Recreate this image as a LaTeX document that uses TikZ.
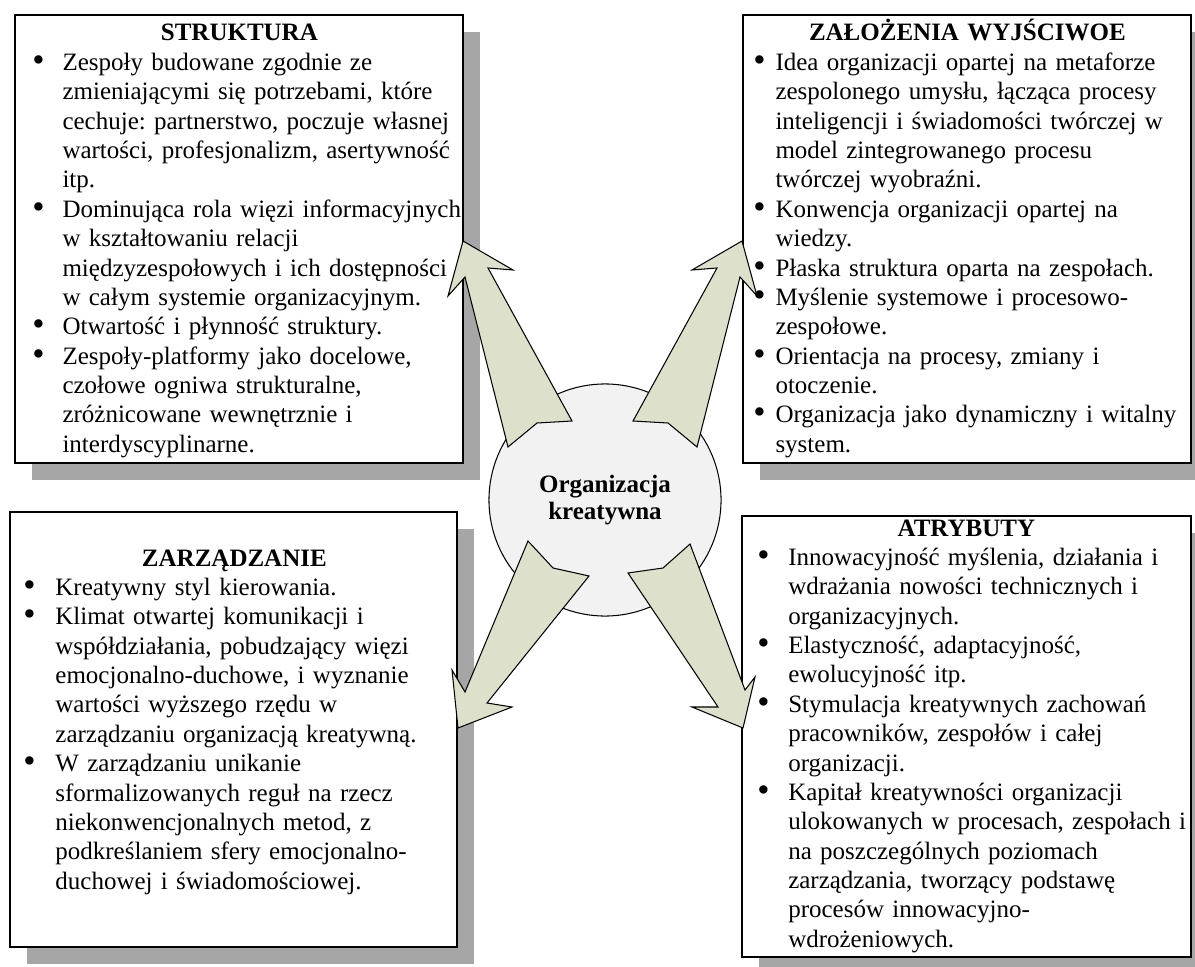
\documentclass[tikz,border=0pt]{standalone}
\usepackage{fontspec}
\usepackage{graphicx}
\setmainfont{Liberation Serif}
\usetikzlibrary{fit,shadows}

\definecolor{cien}{RGB}{166,166,166}
\definecolor{kolo}{RGB}{242,242,242}
\definecolor{strzalka}{RGB}{221,224,203}

\newlength\bulx
\newlength\txtx
\newcommand{\wciecia}[2]{\setlength\bulx{#1}\setlength\txtx{#2}}
\newcommand{\pkt}{\par\noindent\hangindent=\txtx\hangafter=1\makebox[\txtx][l]{\hspace*{\bulx}\raisebox{-0.5pt}{\scalebox{1.4}{\textbullet}}}}
\newcommand{\tytul}[1]{{\centering\bfseries #1\par}}

\tikzset{
  ramka/.style={draw, line width=1pt, fill=white, inner sep=0pt,
    drop shadow={shadow xshift=8.2pt, shadow yshift=-8.2pt, fill=cien, opacity=1}},
  tekst/.style={anchor=base west, inner sep=0pt, text width=215pt,
    font=\fontsize{12}{14.1}\selectfont\frenchspacing},
  strz/.style={draw, line width=0.5pt, fill=strzalka},
}

\begin{document}
\begin{tikzpicture}[x=0.48pt,y=-0.48pt]
   \clip (0,0) rectangle (1195,967);

   % ramki
   \node[ramka, fit={(15,15) (463,463)}] (struktura) {};
   \node[ramka, fit={(743,15) (1191,463)}] (zalozenia) {};
   \node[ramka, fit={(10,512) (457,947)}] (zarzadzanie) {};
   \node[ramka, fit={(742,516) (1191,957)}] (atrybuty) {};

   \node[tekst] (t-struktura) at (15,41) {\wciecia{8.2pt}{22.6pt}%
     \tytul{STRUKTURA}
     \pkt Zespoły budowane zgodnie ze\newline zmieniającymi się potrzebami, które\newline cechuje: partnerstwo, poczuje własnej\newline wartości, profesjonalizm, asertywność\newline itp.
     \pkt Dominująca rola więzi informacyjnych\newline w kształtowaniu relacji\newline międzyzespołowych i ich dostępności\newline w całym systemie organizacyjnym.
     \pkt Otwartość i płynność struktury.
     \pkt Zespoły-platformy jako docelowe,\newline czołowe ogniwa strukturalne,\newline zróżnicowane wewnętrznie i\newline interdyscyplinarne.\par};

   \node[tekst] (t-zalozenia) at (743,41) {\wciecia{4.8pt}{15.4pt}%
     \tytul{ZAŁOŻENIA WYJŚCIWOE}
     \pkt Idea organizacji opartej na metaforze\newline zespolonego umysłu, łącząca procesy\newline inteligencji i świadomości twórczej w\newline model zintegrowanego procesu\newline twórczej wyobraźni.
     \pkt Konwencja organizacji opartej na\newline wiedzy.
     \pkt Płaska struktura oparta na zespołach.
     \pkt Myślenie systemowe i procesowo-\newline zespołowe.
     \pkt Orientacja na procesy, zmiany i\newline otoczenie.
     \pkt Organizacja jako dynamiczny i witalny\newline system.\par};

   \node[tekst] (t-zarzadzanie) at (10,566) {\wciecia{6.2pt}{21.6pt}%
     \tytul{ZARZĄDZANIE}
     \pkt Kreatywny styl kierowania.
     \pkt Klimat otwartej komunikacji i\newline współdziałania, pobudzający więzi\newline emocjonalno-duchowe, i wyznanie\newline wartości wyższego rzędu w\newline zarządzaniu organizacją kreatywną.
     \pkt W zarządzaniu unikanie\newline sformalizowanych reguł na rzecz\newline niekonwencjonalnych metod, z\newline podkreślaniem sfery emocjonalno-\newline duchowej i świadomościowej.\par};

   \node[tekst] (t-atrybuty) at (742,536) {\wciecia{7.2pt}{22pt}%
     \tytul{ATRYBUTY}
     \pkt Innowacyjność myślenia, działania i\newline wdrażania nowości technicznych i\newline organizacyjnych.
     \pkt Elastyczność, adaptacyjność,\newline ewolucyjność itp.
     \pkt Stymulacja kreatywnych zachowań\newline pracowników, zespołów i całej\newline organizacji.
     \pkt Kapitał kreatywności organizacji\newline ulokowanych w procesach, zespołach i\newline na poszczególnych poziomach\newline zarządzania, tworzący podstawę\newline procesów innowacyjno-\newline wdrożeniowych.\par};

   % koło
   \node[draw, circle, fill=kolo, line width=0.5pt, minimum size=111.4pt, inner sep=0pt,
     align=center, font=\bfseries\fontsize{12}{13.4}\selectfont] (org) at (605,500) {Organizacja\\kreatywna};

   % strzałki
   \draw[strz] (463,241) -- (513,270) -- (488,268) -- (572,421) -- (537,423) -- (508,447) -- (465,277) -- (448,296) -- cycle;
   \draw[strz] (742,241) -- (757,296) -- (740,277) -- (697,447) -- (668,423) -- (633,421) -- (717,268) -- (692,270) -- cycle;
   \draw[strz] (528,541) -- (465,692) -- (452,670) -- (458,728) -- (512,707) -- (487,703) -- (589,576) -- (553,568) -- cycle;
   \draw[strz] (628,573) -- (718,707) -- (692,707) -- (743,728) -- (755,677) -- (745,690) -- (690,544) -- (663,568) -- cycle;

\end{tikzpicture}
\end{document}
